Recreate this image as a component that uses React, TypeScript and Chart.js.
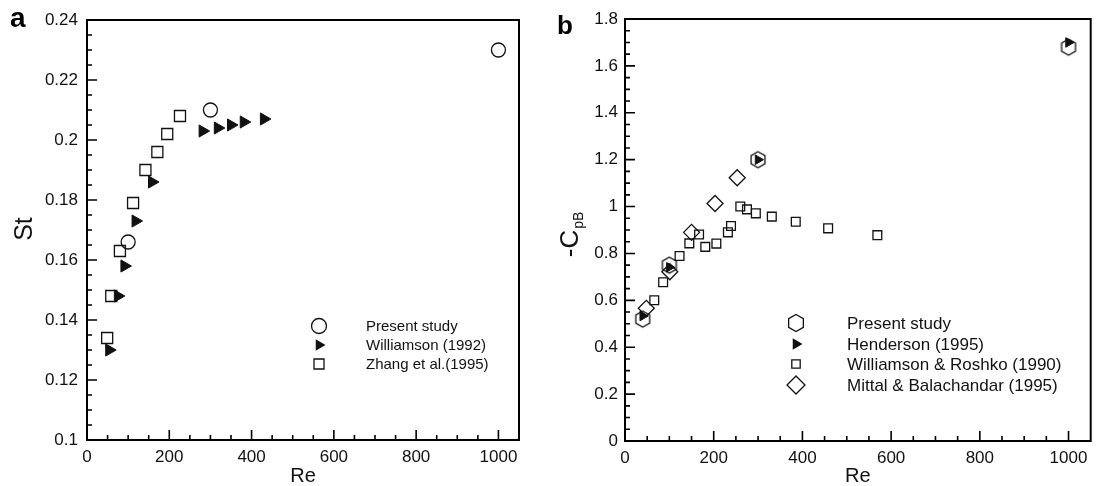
import React, { useEffect, useRef } from 'react';
import { Chart, registerables } from 'chart.js';

Chart.register(...registerables);

// ---------- Panel a : Strouhal number ----------
const stPresentRe = [100, 300, 1000];
const stPresent = [0.166, 0.21, 0.23];
const stWilliamsonRe = [54, 75, 91, 118, 158, 281, 318, 350, 381, 430];
const stWilliamson = [0.13, 0.148, 0.158, 0.173, 0.186, 0.203, 0.204, 0.205, 0.206, 0.207];
const stZhangRe = [49, 59, 80, 112, 142, 171, 195, 226];
const stZhang = [0.134, 0.148, 0.163, 0.179, 0.19, 0.196, 0.202, 0.208];
const stYTicks = [0.1, 0.12, 0.14, 0.16, 0.18, 0.2, 0.22, 0.24];
const stYMinor = [0.105, 0.11, 0.115, 0.125, 0.13, 0.135, 0.145, 0.15, 0.155, 0.165, 0.17, 0.175, 0.185, 0.19, 0.195, 0.205, 0.21, 0.215, 0.225, 0.23, 0.235];
const stLegendLabels = ['Present study', 'Williamson (1992)', 'Zhang et al.(1995)'];

// ---------- Panel b : base pressure ----------
const cpPresentRe = [40, 100, 300, 1000];
const cpPresent = [0.52, 0.75, 1.2, 1.68];
const cpHendersonRe = [40, 100, 300, 1000];
const cpHenderson = [0.533, 0.741, 1.2, 1.7];
const cpRoshkoRe = [66, 86, 123, 145, 167, 181, 206, 232, 239, 260, 275, 295, 331, 385, 458, 569];
const cpRoshko = [0.6, 0.677, 0.789, 0.843, 0.881, 0.828, 0.842, 0.89, 0.917, 1.0, 0.988, 0.971, 0.957, 0.935, 0.907, 0.878];
const cpMittalRe = [48, 101, 150, 203, 253];
const cpMittal = [0.566, 0.722, 0.89, 1.013, 1.123];
const cpYTicks = [0, 0.2, 0.4, 0.6, 0.8, 1, 1.2, 1.4, 1.6, 1.8];
const cpYMinor = [0.05, 0.1, 0.15, 0.25, 0.3, 0.35, 0.45, 0.5, 0.55, 0.65, 0.7, 0.75, 0.85, 0.9, 0.95, 1.05, 1.1, 1.15, 1.25, 1.3, 1.35, 1.45, 1.5, 1.55, 1.65, 1.7, 1.75];
const cpLegendLabels = ['Present study', 'Henderson (1995)', 'Williamson & Roshko (1990)', 'Mittal & Balachandar (1995)'];

// ---------- shared x axis ----------
const reTicks = [0, 200, 400, 600, 800, 1000];
const reMinor = [50, 100, 150, 250, 300, 350, 450, 500, 550, 650, 700, 750, 850, 900, 950, 1000, 1050];

const FONT = "'Liberation Sans', Arial, sans-serif";
const INK = '#111';

const pts = (xs: number[], ys: number[]) => xs.map((x, i) => ({ x, y: ys[i] }));

function hexPath(ctx: CanvasRenderingContext2D, x: number, y: number, r: number) {
  ctx.beginPath();
  for (let i = 0; i < 6; i++) {
    const a = -Math.PI / 2 + (i * Math.PI) / 3;
    const px = x + r * Math.cos(a);
    const py = y + r * Math.sin(a);
    if (i === 0) ctx.moveTo(px, py);
    else ctx.lineTo(px, py);
  }
  ctx.closePath();
}

function makeHex(r: number) {
  const size = Math.ceil(2 * r + 4);
  const c = document.createElement('canvas');
  c.width = size;
  c.height = size;
  const ctx = c.getContext('2d')!;
  ctx.lineWidth = 1.3;
  ctx.strokeStyle = INK;
  hexPath(ctx, size / 2, size / 2, r);
  ctx.stroke();
  return c;
}

function drawMarker(ctx: CanvasRenderingContext2D, kind: string, x: number, y: number, r: number) {
  ctx.save();
  ctx.lineWidth = 1.3;
  ctx.strokeStyle = INK;
  ctx.fillStyle = INK;
  ctx.beginPath();
  if (kind === 'circle') {
    ctx.arc(x, y, r, 0, Math.PI * 2);
    ctx.stroke();
  } else if (kind === 'hex') {
    hexPath(ctx, x, y, r);
    ctx.stroke();
  } else if (kind === 'tri') {
    ctx.moveTo(x + r, y);
    ctx.lineTo(x - r / 2, y - r * 0.866);
    ctx.lineTo(x - r / 2, y + r * 0.866);
    ctx.closePath();
    ctx.fill();
  } else if (kind === 'square') {
    ctx.rect(x - r, y - r, 2 * r, 2 * r);
    ctx.stroke();
  } else if (kind === 'diamond') {
    ctx.moveTo(x, y - r);
    ctx.lineTo(x + r, y);
    ctx.lineTo(x, y + r);
    ctx.lineTo(x - r, y);
    ctx.closePath();
    ctx.stroke();
  }
  ctx.restore();
}

type Deco = {
  panel: string;
  panelX: number;
  panelY: number;
  panelSize: number;
  yTitle: string;
  ySub?: string;
  yTitleX: number;
  yTitleY: number;
  yTitleSize: number;
  ySubSize?: number;
  xMajor: number[];
  xMinor: number[];
  yMajor: number[];
  yMinor: number[];
  legend: { labels: string[]; markers: { kind: string; r: number }[]; mx: number; tx: number; ys: number[]; size: number };
};

function decoPlugin(d: Deco) {
  return {
    id: 'deco',
    afterDraw(chart: any) {
      const ctx: CanvasRenderingContext2D = chart.ctx;
      const { left, right, top, bottom } = chart.chartArea;
      const xs = chart.scales.x;
      const ys = chart.scales.y;
      ctx.save();
      // ticks (inward)
      ctx.strokeStyle = '#000';
      ctx.lineWidth = 1.6;
      ctx.beginPath();
      d.xMajor.forEach((v) => {
        const p = xs.getPixelForValue(v);
        ctx.moveTo(p, bottom);
        ctx.lineTo(p, bottom - 10);
      });
      d.xMinor.forEach((v) => {
        const p = xs.getPixelForValue(v);
        if (p > right - 1) return;
        ctx.moveTo(p, bottom);
        ctx.lineTo(p, bottom - 5);
      });
      d.yMajor.forEach((v) => {
        const p = ys.getPixelForValue(v);
        ctx.moveTo(left, p);
        ctx.lineTo(left + 10, p);
      });
      d.yMinor.forEach((v) => {
        const p = ys.getPixelForValue(v);
        ctx.moveTo(left, p);
        ctx.lineTo(left + 5, p);
      });
      ctx.stroke();
      // frame
      ctx.lineWidth = 2;
      ctx.strokeRect(left, top, right - left, bottom - top);

      // panel label
      ctx.fillStyle = '#000';
      ctx.font = `bold ${d.panelSize}px ${FONT}`;
      ctx.textAlign = 'left';
      ctx.textBaseline = 'alphabetic';
      ctx.fillText(d.panel, d.panelX, d.panelY);

      // y title (rotated, with optional subscript)
      ctx.save();
      ctx.translate(d.yTitleX, d.yTitleY);
      ctx.rotate(-Math.PI / 2);
      ctx.fillStyle = INK;
      ctx.font = `${d.yTitleSize}px ${FONT}`;
      const mainW = ctx.measureText(d.yTitle).width;
      let subW = 0;
      if (d.ySub) {
        ctx.font = `${d.ySubSize}px ${FONT}`;
        subW = ctx.measureText(d.ySub).width;
      }
      const start = -(mainW + subW) / 2;
      ctx.font = `${d.yTitleSize}px ${FONT}`;
      ctx.textAlign = 'left';
      ctx.fillText(d.yTitle, start, 0);
      if (d.ySub) {
        ctx.font = `${d.ySubSize}px ${FONT}`;
        ctx.fillText(d.ySub, start + mainW + 1, 5);
      }
      ctx.restore();

      // legend
      const lg = d.legend;
      lg.labels.forEach((lab, i) => {
        const m = lg.markers[i];
        drawMarker(ctx, m.kind, lg.mx, lg.ys[i], m.r);
        ctx.fillStyle = INK;
        ctx.font = `${lg.size}px ${FONT}`;
        ctx.textAlign = 'left';
        ctx.textBaseline = 'middle';
        ctx.fillText(lab, lg.tx, lg.ys[i] + 1);
      });
      ctx.restore();
    },
  };
}

function baseOptions(yMin: number, yMax: number, yTicks: number[], yWidth: number, xHeight: number, yPad: number, padding: any) {
  return {
    responsive: false,
    animation: false,
    events: [],
    layout: { padding },
    plugins: { legend: { display: false }, tooltip: { enabled: false } },
    scales: {
      x: {
        type: 'linear',
        min: 0,
        max: 1050,
        afterBuildTicks: (s: any) => {
          s.ticks = reTicks.map((v) => ({ value: v }));
        },
        afterFit: (s: any) => {
          s.height = xHeight;
        },
        grid: { display: false, drawTicks: false },
        border: { display: false },
        ticks: {
          font: { family: FONT, size: 17 },
          color: INK,
          padding: 7,
          maxRotation: 0,
          autoSkip: false,
          callback: (v: any) => String(v),
        },
        title: { display: true, text: 'Re', font: { family: FONT, size: 20 }, color: INK, padding: { top: 0, bottom: -2 } },
      },
      y: {
        type: 'linear',
        min: yMin,
        max: yMax,
        afterBuildTicks: (s: any) => {
          s.ticks = yTicks.map((v) => ({ value: v }));
        },
        afterFit: (s: any) => {
          s.width = yWidth;
        },
        grid: { display: false, drawTicks: false },
        border: { display: false },
        ticks: {
          font: { family: FONT, size: 17 },
          color: INK,
          padding: yPad,
          autoSkip: false,
          callback: (v: any) => String(Math.round(v * 1000) / 1000),
        },
      },
    },
  };
}

function PanelA() {
  const ref = useRef<HTMLCanvasElement>(null);
  useEffect(() => {
    const deco: Deco = {
      panel: 'a',
      panelX: 10,
      panelY: 27,
      panelSize: 28,
      yTitle: 'St',
      yTitleX: 32,
      yTitleY: 229,
      yTitleSize: 25,
      xMajor: reTicks,
      xMinor: reMinor,
      yMajor: stYTicks,
      yMinor: stYMinor,
      legend: {
        labels: stLegendLabels,
        markers: [
          { kind: 'circle', r: 7.5 },
          { kind: 'tri', r: 6.5 },
          { kind: 'square', r: 5 },
        ],
        mx: 319,
        tx: 366,
        ys: [326, 345, 364],
        size: 15,
      },
    };
    const chart = new Chart(ref.current!, {
      type: 'scatter',
      data: {
        datasets: [
          {
            label: stLegendLabels[0],
            data: pts(stPresentRe, stPresent),
            pointStyle: 'circle',
            pointRadius: 7,
            borderColor: INK,
            backgroundColor: 'rgba(0,0,0,0)',
            borderWidth: 1.3,
            order: 2,
          },
          {
            label: stLegendLabels[1],
            data: pts(stWilliamsonRe, stWilliamson),
            pointStyle: 'triangle',
            rotation: 90,
            pointRadius: 7,
            borderColor: INK,
            backgroundColor: INK,
            borderWidth: 1,
            order: 1,
          },
          {
            label: stLegendLabels[2],
            data: pts(stZhangRe, stZhang),
            pointStyle: 'rect',
            pointRadius: 7.8,
            borderColor: INK,
            backgroundColor: 'rgba(0,0,0,0)',
            borderWidth: 1.3,
            order: 3,
          },
        ],
      },
      options: baseOptions(0.1, 0.24, stYTicks, 87, 46, 9, { left: 0, right: 31, top: 20, bottom: 0 }) as any,
      plugins: [decoPlugin(deco)],
    });
    return () => chart.destroy();
  }, []);
  return <canvas ref={ref} width={550} height={486} style={{ position: 'absolute', left: 0, top: 0 }} />;
}

function PanelB() {
  const ref = useRef<HTMLCanvasElement>(null);
  useEffect(() => {
    const deco: Deco = {
      panel: 'b',
      panelX: 7,
      panelY: 34,
      panelSize: 26,
      yTitle: '-C',
      ySub: 'pB',
      yTitleX: 28,
      yTitleY: 235,
      yTitleSize: 26,
      ySubSize: 14,
      xMajor: reTicks,
      xMinor: reMinor,
      yMajor: cpYTicks,
      yMinor: cpYMinor,
      legend: {
        labels: cpLegendLabels,
        markers: [
          { kind: 'hex', r: 8.5 },
          { kind: 'tri', r: 6.5 },
          { kind: 'square', r: 4.2 },
          { kind: 'diamond', r: 9 },
        ],
        mx: 246,
        tx: 297,
        ys: [323, 344, 364, 385],
        size: 17,
      },
    };
    const hex = makeHex(8);
    const chart = new Chart(ref.current!, {
      type: 'scatter',
      data: {
        datasets: [
          {
            label: cpLegendLabels[0],
            data: pts(cpPresentRe, cpPresent),
            pointStyle: hex as any,
            pointRadius: 8,
            borderColor: INK,
            backgroundColor: 'rgba(0,0,0,0)',
            order: 2,
          },
          {
            label: cpLegendLabels[1],
            data: pts(cpHendersonRe, cpHenderson),
            pointStyle: 'triangle',
            rotation: 90,
            pointRadius: 5.5,
            borderColor: INK,
            backgroundColor: INK,
            borderWidth: 1,
            order: 1,
          },
          {
            label: cpLegendLabels[2],
            data: pts(cpRoshkoRe, cpRoshko),
            pointStyle: 'rect',
            pointRadius: 6.2,
            borderColor: INK,
            backgroundColor: 'rgba(0,0,0,0)',
            borderWidth: 1.3,
            order: 3,
          },
          {
            label: cpLegendLabels[3],
            data: pts(cpMittalRe, cpMittal),
            pointStyle: 'rectRot',
            pointRadius: 8,
            borderColor: INK,
            backgroundColor: 'rgba(0,0,0,0)',
            borderWidth: 1.3,
            order: 4,
          },
        ],
      },
      options: baseOptions(0, 1.8, cpYTicks, 75, 45, 7, { left: 0, right: 2, top: 19, bottom: 0 }) as any,
      plugins: [decoPlugin(deco)],
    });
    return () => chart.destroy();
  }, []);
  return <canvas ref={ref} width={550} height={486} style={{ position: 'absolute', left: 550, top: 0 }} />;
}

export default function App() {
  return (
    <div style={{ position: 'fixed', left: 0, top: 0, width: 1100, height: 486, background: '#fff', overflow: 'hidden' }}>
      <PanelA />
      <PanelB />
    </div>
  );
}
